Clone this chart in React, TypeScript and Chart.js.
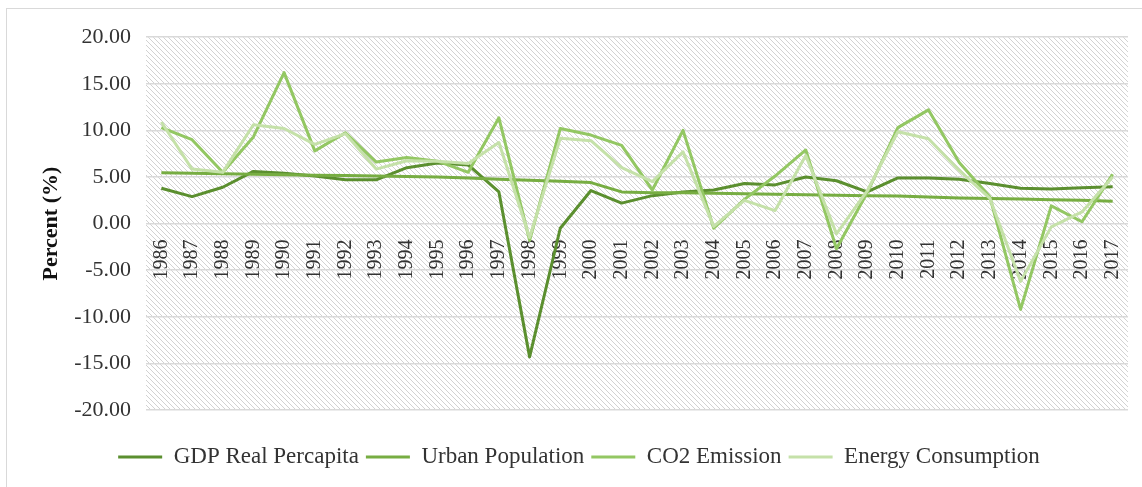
import React, { useEffect, useRef } from 'react';
import { Chart, registerables } from 'chart.js';

Chart.register(...registerables);

const years = [
  '1986', '1987', '1988', '1989', '1990', '1991', '1992', '1993', '1994', '1995', '1996',
  '1997', '1998', '1999', '2000', '2001', '2002', '2003', '2004', '2005', '2006', '2007',
  '2008', '2009', '2010', '2011', '2012', '2013', '2014', '2015', '2016', '2017',
];

const gdpRealPercapita = [
  3.8, 2.9, 3.9, 5.6, 5.4, 5.1, 4.7, 4.7, 6.0, 6.5, 6.3, 3.4,
  -14.3, -0.5, 3.55, 2.2, 3.0, 3.4, 3.6, 4.3, 4.15, 5.0, 4.6, 3.4,
  4.9, 4.9, 4.75, 4.3, 3.8, 3.7, 3.85, 3.95,
];

const urbanPopulation = [
  5.45, 5.4, 5.35, 5.3, 5.25, 5.2, 5.15, 5.1, 5.05, 5.0, 4.9, 4.75,
  4.65, 4.55, 4.4, 3.4, 3.3, 3.3, 3.25, 3.2, 3.15, 3.1, 3.05, 3.0,
  2.95, 2.85, 2.75, 2.7, 2.65, 2.55, 2.5, 2.4,
];

const co2Emission = [
  10.3, 9.0, 5.5, 9.3, 16.2, 7.8, 9.75, 6.6, 7.1, 6.7, 5.5, 11.35,
  -1.8, 10.2, 9.5, 8.4, 3.6, 10.0, -0.5, 2.6, 5.1, 7.9, -2.7, 3.3,
  10.3, 12.2, 6.55, 2.85, -9.2, 1.9, 0.2, 5.3,
];

const energyConsumption = [
  10.9, 5.85, 5.5, 10.6, 10.2, 8.5, 9.65, 5.85, 6.75, 6.7, 6.45, 8.7,
  -1.5, 9.15, 8.9, 6.0, 4.5, 7.7, -0.3, 2.5, 1.4, 7.3, -1.1, 3.5,
  9.85, 9.1, 5.7, 2.7, -6.2, -0.35, 1.25, 5.0,
];

const seriesNames = ['GDP Real Percapita', 'Urban Population', 'CO2 Emission', 'Energy Consumption'];
const seriesColors = ['#5b8f2f', '#77ad42', '#93c763', '#c5e1a9'];

const yTicks = { min: -20, max: 20, step: 5 };

const FONT = "'Times New Roman', 'Liberation Serif', serif";

const hatchPlugin = {
  id: 'hatchBackground',
  beforeDraw(chart: any) {
    const { ctx, chartArea } = chart;
    if (!chartArea) return;
    const p = document.createElement('canvas');
    p.width = 5;
    p.height = 5;
    const c = p.getContext('2d')!;
    c.fillStyle = '#ffffff';
    c.fillRect(0, 0, 5, 5);
    c.strokeStyle = '#d2d2d2';
    c.lineWidth = 1;
    c.beginPath();
    c.moveTo(-1, -1);
    c.lineTo(6, 6);
    c.moveTo(-1, 4);
    c.lineTo(1, 6);
    c.moveTo(4, -1);
    c.lineTo(6, 1);
    c.stroke();
    const pattern = ctx.createPattern(p, 'repeat');
    ctx.save();
    ctx.fillStyle = pattern;
    ctx.fillRect(chartArea.left, chartArea.top, chartArea.right - chartArea.left, chartArea.bottom - chartArea.top);
    ctx.restore();
  },
};

export default function App() {
  const ref = useRef<HTMLCanvasElement>(null);

  useEffect(() => {
    const values = [gdpRealPercapita, urbanPopulation, co2Emission, energyConsumption];
    const chart = new Chart(ref.current!, {
      type: 'line',
      data: {
        labels: years,
        datasets: values.map((d, i) => ({
          label: seriesNames[i],
          data: d,
          borderColor: seriesColors[i],
          backgroundColor: seriesColors[i],
          borderWidth: 3,
          pointRadius: 0,
          tension: 0,
          fill: false,
          borderJoinStyle: 'round' as const,
          order: 4 - i,
        })),
      },
      options: {
        responsive: false,
        animation: false,
        devicePixelRatio: 1,
        layout: { padding: { left: 0, right: 14, top: 24.5, bottom: 8.5 } },
        scales: {
          x: {
            position: { y: 0 } as any,
            offset: true,
            grid: { display: false, drawTicks: false },
            border: { display: false },
            ticks: {
              autoSkip: false,
              minRotation: 90,
              maxRotation: 90,
              padding: 16,
              color: '#333333',
              font: { family: FONT, size: 20 },
            },
            afterFit: (s: any) => {
              s.paddingLeft = 0;
              s.paddingRight = 0;
            },
          },
          y: {
            min: yTicks.min,
            max: yTicks.max,
            ticks: {
              stepSize: yTicks.step,
              padding: 15,
              color: '#333333',
              font: { family: FONT, size: 22 },
              callback: (v: any) => Number(v).toFixed(2),
            },
            grid: { color: '#d9d9d9', lineWidth: 1.5, drawTicks: false },
            border: { display: false },
            title: {
              display: true,
              text: 'Percent (%)',
              color: '#111111',
              font: { family: FONT, size: 22, weight: 'bold' },
              padding: { top: 8.5, bottom: 0 },
            },
            afterFit: (s: any) => {
              s.width = 116;
            },
          },
        },
        plugins: {
          tooltip: { enabled: false },
          legend: {
            position: 'bottom',
            title: {
              display: true,
              text: ' ',
              font: { size: 10, lineHeight: 1 },
              padding: { top: 18.5, bottom: 0 },
            },
            labels: {
              boxWidth: 44,
              boxHeight: 3,
              padding: 7,
              color: '#333333',
              font: { family: FONT, size: 23 },
              sort: (a: any, b: any) => a.datasetIndex - b.datasetIndex,
              generateLabels: (c: any) =>
                (Chart.defaults.plugins.legend.labels.generateLabels as any)(c).map((l: any) => ({
                  ...l,
                  fillStyle: l.strokeStyle,
                  lineWidth: 0,
                })),
            },
          },
        },
      },
      plugins: [hatchPlugin],
    });
    return () => chart.destroy();
  }, []);

  return (
    <div
      style={{
        position: 'fixed',
        left: 6,
        top: 8,
        width: 1136,
        height: 479,
        borderTop: '1px solid #d9d9d9',
        borderLeft: '1px solid #d9d9d9',
        boxSizing: 'border-box',
        background: '#ffffff',
      }}
    >
      <canvas
        ref={ref}
        width={1112}
        height={478}
        style={{ position: 'absolute', left: 23, top: 0, width: 1112, height: 478 }}
      />
    </div>
  );
}
